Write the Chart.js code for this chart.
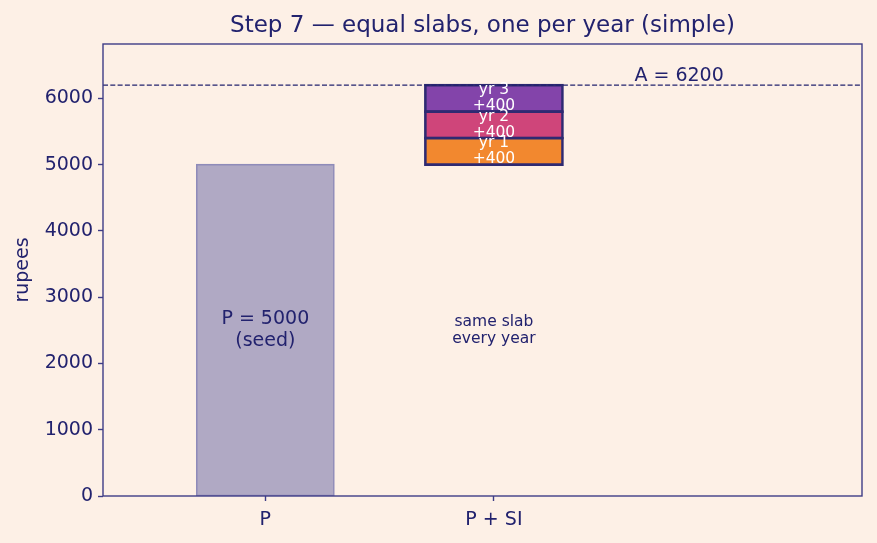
<!DOCTYPE html>
<html>
<head>
<meta charset="utf-8">
<script src="https://cdn.jsdelivr.net/npm/chart.js@4"></script>
<style>
  html, body { margin: 0; padding: 0; background: #fdf0e6; }
  #wrap { width: 877px; height: 543px; }
</style>
</head>
<body>
<div id="wrap"><canvas id="chart" width="877" height="543"></canvas></div>
<script>
// chart values
const categories = ['P', 'P + SI'];
const principal = 5000;
const yearLabels = ['yr 1', 'yr 2', 'yr 3'];
const slabValues = [400, 400, 400];
const amount = 6200;
const yTicks = [0, 1000, 2000, 3000, 4000, 5000, 6000];
const slabColors = ['#f2882f', '#cf457a', '#8344aa'];
const titleText = 'Step 7 — equal slabs, one per year (simple)';

const navy = '#22226e';
const bg = '#fdf0e6';
const font = "'DejaVu Sans', sans-serif";

// build the floating bars: P from 0, then equal slabs stacked on top of P
const datasets = [{
    label: 'P',
    data: [{ x: 0, y: [0, principal] }],
    backgroundColor: '#b0a9c4',
    borderColor: '#8f8bb9',
    borderWidth: 1.6,
    inflateAmount: 0.8,
    borderSkipped: false
}];
let base = principal;
yearLabels.forEach((lab, i) => {
    datasets.push({
        label: lab,
        data: [{ x: 1, y: [base, base + slabValues[i]] }],
        backgroundColor: slabColors[i],
        borderColor: '#2e2a72',
        borderWidth: 2.6,
        inflateAmount: 1.3,
        borderSkipped: false
    });
    base += slabValues[i];
});

const annotations = {
    id: 'annotations',
    beforeDraw(chart) {
        const c = chart.ctx;
        c.save();
        c.fillStyle = bg;
        c.fillRect(0, 0, chart.width, chart.height);
        c.restore();
    },
    afterDatasetsDraw(chart) {
        const c = chart.ctx;
        const xs = chart.scales.x, ys = chart.scales.y;
        const area = chart.chartArea;
        c.save();

        // title centred over the axes
        c.fillStyle = navy;
        c.textAlign = 'center';
        c.textBaseline = 'alphabetic';
        c.font = '23px ' + font;
        c.fillText(titleText, (area.left + area.right) / 2, 32);

        // dashed line at the final amount
        const ya = ys.getPixelForValue(amount);
        c.strokeStyle = navy;
        c.lineWidth = 1.3;
        c.setLineDash([5, 2.3]);
        c.beginPath();
        c.moveTo(area.left, ya);
        c.lineTo(area.right, ya);
        c.stroke();
        c.setLineDash([]);

        c.font = '19px ' + font;
        c.fillText('A = ' + amount, xs.getPixelForValue(1.81), ya - 4);

        // slab labels
        c.textBaseline = 'middle';
        c.font = '15.5px ' + font;
        c.fillStyle = '#ffffff';
        let lo = principal;
        yearLabels.forEach((lab, i) => {
            const mid = ys.getPixelForValue(lo + slabValues[i] / 2);
            const xp = xs.getPixelForValue(1);
            c.fillText(lab, xp, mid - 8);
            c.fillText('+' + slabValues[i], xp, mid + 8);
            lo += slabValues[i];
        });

        // P label
        c.fillStyle = navy;
        c.font = '19px ' + font;
        const pm = ys.getPixelForValue(principal / 2);
        c.fillText('P = ' + principal, xs.getPixelForValue(0), pm - 11);
        c.fillText('(seed)', xs.getPixelForValue(0), pm + 11);

        c.font = '15.5px ' + font;
        c.fillText('same slab', xs.getPixelForValue(1), pm - 8.5);
        c.fillText('every year', xs.getPixelForValue(1), pm + 8.5);

        // frame
        c.strokeStyle = '#3e3c86';
        c.lineWidth = 1.4;
        c.strokeRect(area.left, area.top, area.right - area.left, area.bottom - area.top);
        c.restore();
    }
};

new Chart(document.getElementById('chart'), {
    type: 'bar',
    data: { datasets: datasets },
    options: {
        responsive: false,
        animation: false,
        categoryPercentage: 0.6,
        barPercentage: 1,
        layout: { padding: { left: 8, right: 15, top: 44, bottom: 0 } },
        plugins: {
            legend: { display: false },
            tooltip: { enabled: false },
            title: { display: false }
        },
        scales: {
            x: {
                type: 'linear',
                stacked: true,
                offset: false,
                min: -0.71,
                max: 2.61,
                afterBuildTicks: s => { s.ticks = categories.map((_, i) => ({ value: i })); },
                afterFit: s => { s.height = 47; },
                ticks: {
                    color: navy,
                    font: { family: font, size: 19 },
                    padding: 8,
                    maxRotation: 0,
                    callback: v => categories[v]
                },
                grid: { display: true, offset: false, drawOnChartArea: false, tickLength: 5, tickColor: '#3e3c86', tickWidth: 1.4 },
                border: { display: false }
            },
            y: {
                min: 0,
                max: 6820,
                afterBuildTicks: s => { s.ticks = yTicks.map(v => ({ value: v })); },
                afterFit: s => { s.width = 95; },
                ticks: {
                    color: navy,
                    font: { family: font, size: 19 },
                    padding: 5,
                    callback: v => String(v)
                },
                grid: { display: true, drawOnChartArea: false, tickLength: 5, tickColor: '#3e3c86', tickWidth: 1.4 },
                border: { display: false },
                title: {
                    display: true,
                    text: 'rupees',
                    color: navy,
                    font: { family: font, size: 19 }
                }
            }
        }
    },
    plugins: [annotations]
});
</script>
</body>
</html>
